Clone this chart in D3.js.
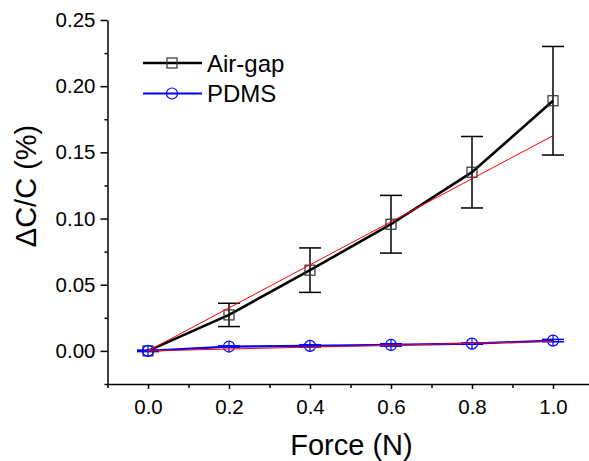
<!DOCTYPE html>
<html>
<head>
<meta charset="utf-8">
<script src="https://cdn.jsdelivr.net/npm/d3@7/dist/d3.min.js"></script>
<style>
  body { margin: 0; background: #fff; }
  svg { display: block; font-family: Arial, "Liberation Sans", sans-serif; }
  .axis path, .axis line { stroke: #000; stroke-width: 1.5; }
  .axis text { font-size: 20.5px; fill: #000; }
</style>
</head>
<body>
<svg id="chart" width="589" height="461"></svg>
<script>
// Force values (N)
const force = [0.0, 0.2, 0.4, 0.6, 0.8, 1.0];

// Air-gap sensor: mean and error bar half-width
const airGap = [0.0, 0.0272, 0.061, 0.0957, 0.135, 0.189];
const airGapErr = [0.0005, 0.0088, 0.0168, 0.0218, 0.027, 0.041];

// PDMS sensor
const pdms = [0.0, 0.0033, 0.0038, 0.0045, 0.0055, 0.0078];
const pdmsErr = [0.0003, 0.0005, 0.0009, 0.0009, 0.0005, 0.0009];

// linear fits (red lines), endpoints at force 0 and 1
const fitX = [0.0, 1.0];
const airGapFit = [0.0, 0.1626];
const pdmsFit = [0.0, 0.0072];

const xMajor = [0.0, 0.2, 0.4, 0.6, 0.8, 1.0];
const xMinor = [-0.1, 0.1, 0.3, 0.5, 0.7, 0.9, 1.1];
const yMajor = [0.0, 0.05, 0.10, 0.15, 0.20, 0.25];
const yMinor = [-0.025, 0.025, 0.075, 0.125, 0.175, 0.225];

const svg = d3.select("#chart");

const x = d3.scaleLinear().domain([-0.1, 1.1]).range([107.5, 593.5]);
const y = d3.scaleLinear().domain([-0.025, 0.25]).range([384, 20]);

// x axis
svg.append("g")
  .attr("class", "axis")
  .attr("transform", `translate(0, ${y(-0.025)})`)
  .call(d3.axisBottom(x).tickValues(xMinor).tickSize(4).tickSizeOuter(0).tickFormat(""));
svg.append("g")
  .attr("class", "axis")
  .attr("transform", `translate(0, ${y(-0.025)})`)
  .call(d3.axisBottom(x).tickValues(xMajor).tickSize(5).tickSizeOuter(0).tickPadding(10).tickFormat(d3.format(".1f")))
  .select(".domain").remove();

// y axis
svg.append("g")
  .attr("class", "axis")
  .attr("transform", `translate(${x(-0.1)}, 0)`)
  .call(d3.axisLeft(y).tickValues(yMinor).tickSize(3).tickSizeOuter(0).tickFormat(""));
svg.append("g")
  .attr("class", "axis")
  .attr("transform", `translate(${x(-0.1)}, 0)`)
  .call(d3.axisLeft(y).tickValues(yMajor).tickSize(7).tickSizeOuter(0).tickPadding(5).tickFormat(d3.format(".2f")))
  .select(".domain").remove();

// axis titles
svg.append("text")
  .attr("x", 351.5)
  .attr("y", 455)
  .attr("text-anchor", "middle")
  .attr("font-size", 29)
  .text("Force (N)");

svg.append("text")
  .attr("transform", "translate(36, 186) rotate(-90)")
  .attr("text-anchor", "middle")
  .attr("font-size", 29)
  .text("ΔC/C (%)");

const line = d3.line().x(d => x(d[0])).y(d => y(d[1]));

function drawSeries(vals, errs, color, width, marker) {
  const pts = force.map((f, i) => [f, vals[i], errs[i]]);
  svg.append("path")
    .attr("d", line(pts))
    .attr("fill", "none")
    .attr("stroke", color)
    .attr("stroke-width", width);

  const eb = svg.append("g").attr("stroke", color).attr("stroke-width", 1.5);
  pts.forEach(p => {
    const cx = x(p[0]);
    eb.append("line").attr("x1", cx).attr("x2", cx)
      .attr("y1", y(p[1] - p[2])).attr("y2", y(p[1] + p[2]));
    [p[1] - p[2], p[1] + p[2]].forEach(v => {
      eb.append("line").attr("x1", cx - 11).attr("x2", cx + 11)
        .attr("y1", y(v)).attr("y2", y(v));
    });
  });

  pts.forEach(p => marker(x(p[0]), y(p[1]), true));
}

function square(cx, cy) {
  svg.append("rect")
    .attr("x", cx - 5).attr("y", cy - 5)
    .attr("width", 10).attr("height", 10)
    .attr("fill", "none").attr("stroke", "#333").attr("stroke-width", 1.2);
}

function circle(cx, cy, stem) {
  svg.append("circle")
    .attr("cx", cx).attr("cy", cy).attr("r", 5.5)
    .attr("fill", "none").attr("stroke", "#0000ff").attr("stroke-width", 1.2);
  if (stem) {
    svg.append("line")
      .attr("x1", cx).attr("x2", cx)
      .attr("y1", cy - 5.5).attr("y2", cy + 5.5)
      .attr("stroke", "#0000ff").attr("stroke-width", 1.2);
  }
}

drawSeries(airGap, airGapErr, "#000", 2.6, square);
drawSeries(pdms, pdmsErr, "#0000ff", 2.2, circle);

// fitted lines
[airGapFit, pdmsFit].forEach(fit => {
  svg.append("path")
    .attr("d", line(fitX.map((f, i) => [f, fit[i]])))
    .attr("fill", "none")
    .attr("stroke", "#ff0000")
    .attr("stroke-width", 1);
});

// legend
const legend = [
  { name: "Air-gap", color: "#000", width: 2.6, marker: square, y: 63 },
  { name: "PDMS", color: "#0000ff", width: 2.2, marker: circle, y: 93.5 }
];
legend.forEach(l => {
  svg.append("line")
    .attr("x1", 143).attr("x2", 202)
    .attr("y1", l.y).attr("y2", l.y)
    .attr("stroke", l.color).attr("stroke-width", l.width);
  l.marker(172, l.y, false);
  svg.append("text")
    .attr("x", 207)
    .attr("y", l.y + 8.5)
    .attr("font-size", 24)
    .text(l.name);
});
</script>
</body>
</html>
